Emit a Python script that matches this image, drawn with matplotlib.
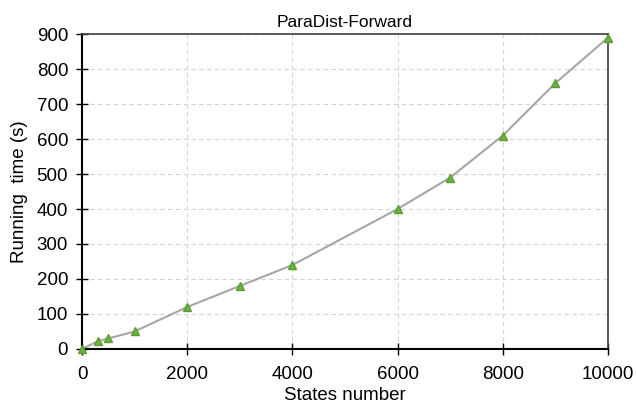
import matplotlib
import matplotlib.pyplot as plt

matplotlib.use('Agg')

# Données
states = [0, 300, 500, 1000, 2000, 3000, 4000, 6000, 7000, 8000, 9000, 10000]
times = [0, 22, 30, 50, 120, 180, 240, 400, 490, 610, 760, 890]

plt.rcParams['font.family'] = ['Liberation Sans', 'DejaVu Sans']

fig = plt.figure(figsize=(6.36, 4.11), dpi=100)
ax = fig.add_axes([0.129, 0.151, 0.827, 0.766])

ax.plot(states, times, color='#a6a6a6', linewidth=1.5, zorder=2)
ax.plot(states, times, linestyle='none', marker='^', markersize=6,
        color='#6db33f', markeredgecolor='#5a9e2f', zorder=3, clip_on=False)

ax.set_xlim(0, 10000)
ax.set_ylim(0, 900)
ax.set_xticks(range(0, 10001, 2000))
ax.set_yticks(range(0, 901, 100))
ax.tick_params(direction='inout', length=8, width=1, labelsize=13.5)
ax.tick_params(axis='x', pad=8)
ax.tick_params(axis='y', pad=6)

ax.grid(True, color='#d4d4d4', linestyle=(0, (4, 3)), linewidth=0.8)
ax.set_axisbelow(True)

for side in ['left', 'bottom']:
    ax.spines[side].set_color('black')
    ax.spines[side].set_linewidth(1.5)
for side in ['top', 'right']:
    ax.spines[side].set_color('#404040')
    ax.spines[side].set_linewidth(1.2)

ax.set_title("ParaDist-Forward", fontsize=12.5, pad=5)
ax.set_xlabel("States number", fontsize=13.5, labelpad=3)
ax.set_ylabel("Running  time (s)", fontsize=13.5, labelpad=6)

fig.savefig("out.png", dpi=100)
plt.close()
